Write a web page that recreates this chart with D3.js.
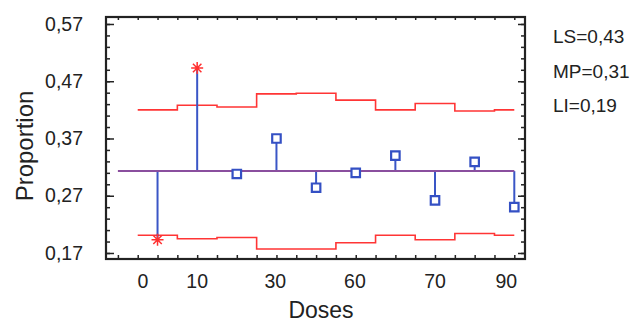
<!DOCTYPE html>
<html>
<head>
<meta charset="utf-8">
<script src="https://cdn.jsdelivr.net/npm/d3@7"></script>
<style>
  body { margin: 0; background: #fff; }
  svg text { font-family: "Liberation Sans", Arial, sans-serif; fill: #222; }
  .axis path { display: none; }
  .axis line { stroke: #222; stroke-width: 1.5; }
</style>
</head>
<body>
<svg width="632" height="323"></svg>
<script>
// subgroup index and observed proportions
const samples = [1, 2, 3, 4, 5, 6, 7, 8, 9, 10];
const proportions = [0.193, 0.493, 0.308, 0.370, 0.284, 0.310, 0.340, 0.262, 0.329, 0.250];
// control limits per subgroup (LS = upper, LI = lower)
const upperLimits = [0.420, 0.428, 0.425, 0.448, 0.449, 0.437, 0.420, 0.431, 0.418, 0.420];
const lowerLimits = [0.201, 0.195, 0.197, 0.177, 0.177, 0.188, 0.201, 0.193, 0.204, 0.201];
const centerValue = 0.313;
// dose labels along the x axis, and where they sit in subgroup units
const doseLabels = ["0", "10", "30", "60", "70", "90"];
const dosePositions = [0.63, 2, 3.97, 5.98, 8, 9.8];
const yLabelTicks = [0.17, 0.27, 0.37, 0.47, 0.57];
const notes = ["LS=0,43", "MP=0,31", "LI=0,19"];

const svg = d3.select("svg");
const plotLeft = 106, plotRight = 525, plotTop = 17, plotBottom = 259;

const x = d3.scaleLinear().domain([-0.3, 10.27]).range([plotLeft, plotRight]);
const y = d3.scaleLinear().domain([0.1595, 0.5822]).range([plotBottom, plotTop]);

const comma = v => d3.format(".2f")(v).replace(".", ",");
const minorY = d3.range(0, 21).map(i => 0.17 + i * 0.02);
const minorX = d3.range(0, 21).map(i => i * 0.5);

// axes with ticks pointing inward
svg.append("g").attr("class", "axis")
  .attr("transform", `translate(${plotLeft},0)`)
  .call(d3.axisLeft(y).tickValues(minorY).tickSize(-4).tickFormat(""));
svg.append("g").attr("class", "axis")
  .attr("transform", `translate(${plotLeft},0)`)
  .call(d3.axisLeft(y).tickValues(yLabelTicks).tickSize(-8).tickPadding(23).tickFormat(comma))
  .selectAll("text").style("font-size", "19.5px");
svg.append("g").attr("class", "axis")
  .attr("transform", `translate(${plotRight},0)`)
  .call(d3.axisRight(y).tickValues(minorY).tickSize(-4).tickFormat(""));
svg.append("g").attr("class", "axis")
  .attr("transform", `translate(${plotRight},0)`)
  .call(d3.axisRight(y).tickValues(yLabelTicks).tickSize(-7).tickFormat(""));
svg.append("g").attr("class", "axis")
  .attr("transform", `translate(0,${plotBottom})`)
  .call(d3.axisBottom(x).tickValues(minorX).tickSize(-4).tickFormat(""));
svg.append("g").attr("class", "axis")
  .attr("transform", `translate(0,${plotTop})`)
  .call(d3.axisTop(x).tickValues(minorX).tickSize(-3).tickFormat(""));

svg.append("rect")
  .attr("x", plotLeft).attr("y", plotTop)
  .attr("width", plotRight - plotLeft).attr("height", plotBottom - plotTop)
  .attr("fill", "none").attr("stroke", "#222").attr("stroke-width", 2.2);

// dose labels
svg.append("g").selectAll("text")
  .data(doseLabels)
  .enter().append("text")
  .attr("x", (d, i) => x(dosePositions[i]))
  .attr("y", 288)
  .attr("text-anchor", "middle")
  .style("font-size", "19.5px")
  .text(d => d);

// step lines for the control limits
const stepLine = d3.line()
  .x(d => x(d[0]))
  .y(d => y(d[1]))
  .curve(d3.curveStepAfter);
const stepPoints = vals => samples.map((s, i) => [s - 0.5, vals[i]])
  .concat([[samples[samples.length - 1], vals[vals.length - 1]]]);

[upperLimits, lowerLimits].forEach(vals => {
  svg.append("path")
    .attr("d", stepLine(stepPoints(vals)))
    .attr("fill", "none")
    .attr("stroke", "#ff3535")
    .attr("stroke-width", 1.6);
});

// stems
svg.append("g").selectAll("line")
  .data(samples)
  .enter().append("line")
  .attr("x1", d => x(d)).attr("x2", d => x(d))
  .attr("y1", y(centerValue))
  .attr("y2", (d, i) => y(proportions[i]))
  .attr("stroke", "#3a56c6")
  .attr("stroke-width", 2);

// centre line
svg.append("line")
  .attr("x1", x(0)).attr("x2", x(samples[samples.length - 1]))
  .attr("y1", y(centerValue)).attr("y2", y(centerValue))
  .attr("stroke", "#8a4f9e")
  .attr("stroke-width", 2);

// eight-armed star for out-of-control points
const star8 = {
  draw(context, size) {
    const r = Math.sqrt(size) / 2;
    for (let k = 0; k < 4; k++) {
      const a = k * Math.PI / 4;
      context.moveTo(-r * Math.cos(a), -r * Math.sin(a));
      context.lineTo(r * Math.cos(a), r * Math.sin(a));
    }
  }
};

// points: star when outside limits, square otherwise
const outside = i => proportions[i] > upperLimits[i] || proportions[i] < lowerLimits[i];
svg.append("g").selectAll("path")
  .data(samples)
  .enter().append("path")
  .attr("transform", (d, i) => `translate(${x(d)},${y(proportions[i])})`)
  .attr("d", (d, i) => outside(i)
    ? d3.symbol(star8, 144)()
    : d3.symbol(d3.symbolSquare, 72)())
  .attr("fill", (d, i) => outside(i) ? "none" : "#fff")
  .attr("stroke", (d, i) => outside(i) ? "#ff3030" : "#3450c4")
  .attr("stroke-width", (d, i) => outside(i) ? 1.5 : 2.2);

// axis titles
svg.append("text")
  .attr("transform", "translate(33,146) rotate(-90)")
  .attr("text-anchor", "middle")
  .style("font-size", "24px")
  .text("Proportion");
svg.append("text")
  .attr("x", 321).attr("y", 318)
  .attr("text-anchor", "middle")
  .style("font-size", "23px")
  .text("Doses");

// limit notes
svg.append("g").selectAll("text")
  .data(notes)
  .enter().append("text")
  .attr("x", 553)
  .attr("y", (d, i) => [43, 78, 112][i])
  .style("font-size", "19px")
  .text(d => d);
</script>
</body>
</html>
